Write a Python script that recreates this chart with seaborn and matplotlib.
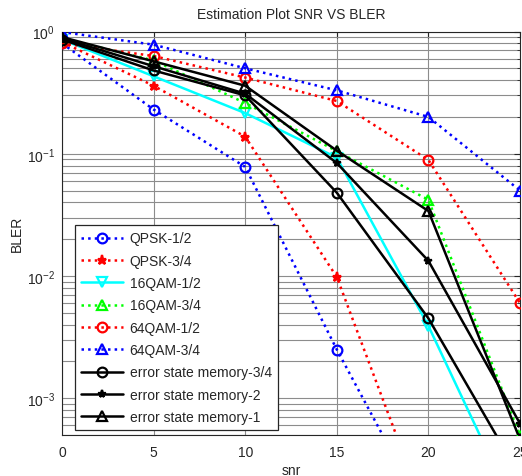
import numpy as np
import pandas as pd
import matplotlib
matplotlib.use("Agg")
import matplotlib.pyplot as plt
import seaborn as sns

snr = [0, 5, 10, 15, 20, 25]

qpsk_12 = [0.80, 0.23, 0.078, 0.0025, 1.0e-4, 4.0e-6]
qpsk_34 = [0.82, 0.36, 0.138, 0.0098, 1.0e-4, 1.0e-6]
qam16_12 = [0.86, 0.43, 0.215, 0.093, 0.0039, 1.0e-4]
qam16_34 = [0.88, 0.58, 0.26, 0.105, 0.042, 4.9e-4]
qam64_12 = [0.80, 0.63, 0.42, 0.27, 0.089, 0.006]
qam64_34 = [0.99, 0.78, 0.50, 0.33, 0.20, 0.050]
mem_34 = [0.86, 0.48, 0.30, 0.048, 0.0045, 2.3e-4]
mem_2 = [0.88, 0.52, 0.31, 0.084, 0.0133, 6.2e-4]
mem_1 = [0.90, 0.57, 0.36, 0.106, 0.034, 4.6e-4]

labels = ["QPSK-1/2", "QPSK-3/4", "16QAM-1/2", "16QAM-3/4", "64QAM-1/2",
          "64QAM-3/4", "error state memory-3/4", "error state memory-2",
          "error state memory-1"]
series = [qpsk_12, qpsk_34, qam16_12, qam16_34, qam64_12, qam64_34,
          mem_34, mem_2, mem_1]
colors = ["#0000ff", "#ff0000", "#00ffff", "#00ff00", "#ff0000", "#0000ff",
          "#000000", "#000000", "#000000"]
styles = [":", ":", "-", ":", ":", ":", "-", "-", "-"]
markers = ["o", "*", "v", "^", "o", "^", "o", "*", "^"]
filled = [False, True, False, False, False, False, False, True, False]
msizes = [7, 6.5, 7, 7, 7, 7, 7, 5.5, 7]

sns.set_style("white")
plt.rcParams["font.family"] = ["Liberation Sans", "DejaVu Sans"]
plt.rcParams["axes.unicode_minus"] = False

fig = plt.figure(figsize=(5.22, 4.77), dpi=100)
ax = fig.add_axes([62 / 522, 41 / 477, 458 / 522, 403.5 / 477])

for lab, vals, c, ls, m, f, ms in zip(labels, series, colors, styles, markers, filled, msizes):
    df = pd.DataFrame({"snr": snr, "BLER": vals})
    sns.lineplot(data=df, x="snr", y="BLER", ax=ax, color=c, linestyle=ls,
                 linewidth=1.8, marker=m, markersize=ms,
                 markerfacecolor=(c if f else "none"), markeredgecolor=c,
                 markeredgewidth=1.6, label=lab, zorder=3)

ax.set_yscale("log")
ax.set_xlim(0, 25)
ax.set_ylim(5e-4, 1)
ax.set_xticks([0, 5, 10, 15, 20, 25])
ax.grid(True, which="major", color="#8c8c8c", linewidth=0.8, linestyle="-")
ax.grid(True, which="minor", axis="y", color="#8c8c8c", linewidth=0.8, linestyle="-")
ax.tick_params(axis="both", which="both", direction="in", labelsize=10,
               colors="#262626", top=True, right=True)
ax.tick_params(axis="x", which="major", length=4, pad=7)
ax.tick_params(axis="y", which="major", length=4, pad=5)
ax.tick_params(axis="both", which="minor", length=2)
for sp in ax.spines.values():
    sp.set_color("#262626")
    sp.set_linewidth(0.8)

ax.set_title("Estimation Plot SNR VS BLER", fontsize=10, color="#262626", pad=10)
ax.set_xlabel("snr", fontsize=10, color="#262626", labelpad=3)
ax.set_ylabel("BLER", fontsize=10, color="#262626", labelpad=2)

leg = ax.legend(loc="upper left", bbox_to_anchor=(0.028, 0.52), fontsize=10,
                frameon=True, fancybox=False, framealpha=1, edgecolor="#262626",
                handlelength=3.0, labelspacing=0.6, borderpad=0.45,
                handletextpad=0.5, borderaxespad=0)
leg.get_frame().set_linewidth(0.9)
leg.set_zorder(5)

fig.savefig("out.png", dpi=100)
